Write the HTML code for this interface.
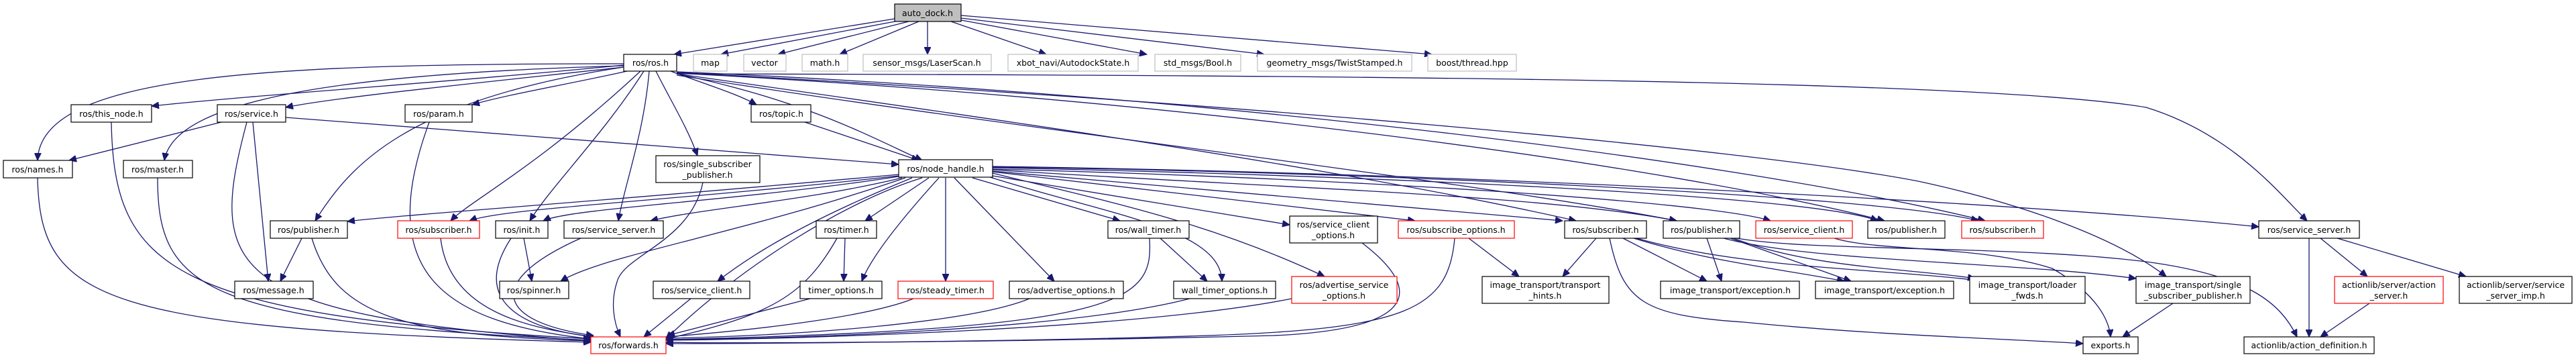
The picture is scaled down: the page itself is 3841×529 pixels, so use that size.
<!DOCTYPE html>
<html><head><meta charset="utf-8"><style>
html,body{margin:0;padding:0;background:#fff;}
svg{display:block;}
text{font-family:"DejaVu Sans","Liberation Sans",sans-serif;font-size:12.5px;fill:#000;text-anchor:middle;}
.e{fill:none;stroke:#191970;stroke-width:1.3;marker-end:url(#a);}
.n{fill:#fff;stroke:#000;stroke-width:1.2;}
.g{fill:#fff;stroke:#bfbfbf;stroke-width:1.2;}
.r{fill:#fff;stroke:#ff0000;stroke-width:1.2;}
</style></head><body>
<svg width="3841" height="529" viewBox="0 0 3841 529" xmlns="http://www.w3.org/2000/svg">
<defs><marker id="a" markerUnits="userSpaceOnUse" markerWidth="12" markerHeight="10" refX="11" refY="5" orient="auto"><path d="M0,0 L11,5 L0,10 z" fill="#191970" stroke="#191970"/></marker></defs>
<g>
<path class="e" d="M1340,27 L1005,81"/>
<path class="e" d="M1345,30 L1075,81"/>
<path class="e" d="M1355,32 L1160,81"/>
<path class="e" d="M1370,32 L1252,81"/>
<path class="e" d="M1383,32 L1383,81"/>
<path class="e" d="M1418,32 L1560,81"/>
<path class="e" d="M1433,30 L1710,81"/>
<path class="e" d="M1433,27 L1885,81"/>
<path class="e" d="M1433,23 L2135,81"/>
<path class="e" d="M930,97 C700,120 400,140 226,158"/>
<path class="e" d="M930,100 C700,125 500,145 426,160"/>
<path class="e" d="M935,106 C850,125 760,140 704,156"/>
<path class="e" d="M1000,106 C1050,125 1100,140 1128,156"/>
<path class="e" d="M930,95 C400,95 60,110 56,239"/>
<path class="e" d="M930,98 C500,110 260,150 245,239"/>
<path class="e" d="M1009,110 C1200,150 1290,200 1375,239"/>
<path class="e" d="M978,106 C1000,150 1025,190 1040,232"/>
<path class="e" d="M930,100 C600,150 520,250 470,329"/>
<path class="e" d="M955,106 C800,250 700,300 672,329"/>
<path class="e" d="M960,106 C900,200 820,280 790,329"/>
<path class="e" d="M968,106 C960,200 930,280 922,329"/>
<path class="e" d="M1009,110 C2000,112 2950,118 3200,160 C3330,200 3400,290 3440,329"/>
<path class="e" d="M1009,108 C1800,150 2600,220 2860,270 C3000,300 3150,350 3230,412"/>
<path class="e" d="M1009,107 C1800,140 2600,240 2960,329"/>
<path class="e" d="M1009,109 C1800,150 2500,250 2810,329"/>
<path class="e" d="M1009,110 C1500,180 2000,250 2350,329"/>
<path class="e" d="M1009,112 C1500,190 2200,270 2500,329"/>
<path class="e" d="M330,182 L103,239"/>
<path class="e" d="M368,182 C310,400 330,470 881,508"/>
<path class="e" d="M377,182 L400,419"/>
<path class="e" d="M426,175 L1340,245"/>
<path class="e" d="M166,182 C170,400 250,470 881,505"/>
<path class="e" d="M56,265 C60,450 150,490 881,510"/>
<path class="e" d="M235,265 C235,430 300,480 881,507"/>
<path class="e" d="M640,182 C560,400 650,480 881,505"/>
<path class="e" d="M1200,182 L1370,239"/>
<path class="e" d="M1048,272 C1030,360 930,380 920,420 C910,450 915,480 925,502"/>
<path class="e" d="M1340,260 C900,300 600,320 518,330"/>
<path class="e" d="M1340,262 C1000,300 750,310 700,329"/>
<path class="e" d="M1340,263 C1100,300 850,310 810,329"/>
<path class="e" d="M1345,265 C1200,300 1050,310 970,329"/>
<path class="e" d="M1350,265 C1100,350 900,380 836,419"/>
<path class="e" d="M1360,265 C1200,330 1120,380 1070,419"/>
<path class="e" d="M1385,265 L1290,329"/>
<path class="e" d="M1375,265 C1260,300 1100,400 993,505"/>
<path class="e" d="M1400,265 C1350,320 1300,380 1285,419"/>
<path class="e" d="M1410,265 L1410,419"/>
<path class="e" d="M1423,265 L1572,419"/>
<path class="e" d="M1450,265 L1670,329"/>
<path class="e" d="M1470,262 C1650,320 1820,340 1822,419"/>
<path class="e" d="M1480,262 L1923,335"/>
<path class="e" d="M1480,258 C1650,300 1800,330 1975,412"/>
<path class="e" d="M1480,256 L2110,329"/>
<path class="e" d="M1480,255 L2330,329"/>
<path class="e" d="M1480,253 C1900,280 2300,290 2500,329"/>
<path class="e" d="M1480,252 C2000,265 2550,300 2640,329"/>
<path class="e" d="M1480,250 C2000,260 2700,290 2800,329"/>
<path class="e" d="M1480,249 C2000,255 2800,290 2950,329"/>
<path class="e" d="M1480,248 C2300,260 3100,310 3368,338"/>
<path class="e" d="M450,355 L418,419"/>
<path class="e" d="M465,355 C500,470 600,500 881,508"/>
<path class="e" d="M657,355 C670,470 800,490 885,502"/>
<path class="e" d="M781,355 L793,419"/>
<path class="e" d="M762,355 C700,450 780,490 885,502"/>
<path class="e" d="M866,355 C720,420 740,480 885,500"/>
<path class="e" d="M1260,355 L1258,419"/>
<path class="e" d="M1248,355 C1200,440 1150,470 993,505"/>
<path class="e" d="M1030,445 L960,502"/>
<path class="e" d="M1208,445 L995,500"/>
<path class="e" d="M1362,445 C1300,470 1150,490 993,502"/>
<path class="e" d="M1535,445 C1450,480 1200,500 993,504"/>
<path class="e" d="M1730,355 L1800,419"/>
<path class="e" d="M1714,355 C1720,450 1680,490 993,506"/>
<path class="e" d="M1774,445 C1600,490 1200,505 993,506"/>
<path class="e" d="M1926,445 C1700,490 1200,505 993,507"/>
<path class="e" d="M2031,362 C2120,430 2120,490 1900,500 C1500,510 1100,512 993,510"/>
<path class="e" d="M2190,355 L2265,412"/>
<path class="e" d="M2169,355 C2160,460 2100,490 1800,500 C1500,510 1100,512 993,512"/>
<path class="e" d="M2380,355 L2330,412"/>
<path class="e" d="M2420,355 L2545,419"/>
<path class="e" d="M2436,355 C2550,390 2650,400 2750,419"/>
<path class="e" d="M2440,355 C2600,400 2800,400 2950,418"/>
<path class="e" d="M2400,355 C2420,450 2450,470 2600,480 C2800,500 3000,505 3106,512"/>
<path class="e" d="M2545,355 L2567,419"/>
<path class="e" d="M2580,355 L2760,419"/>
<path class="e" d="M2585,355 C2700,400 2850,400 2945,415"/>
<path class="e" d="M2570,355 C2700,390 3000,390 3185,415"/>
<path class="e" d="M2590,355 C2700,375 3000,365 3200,390 C3350,410 3400,450 3425,502"/>
<path class="e" d="M2735,355 C2800,375 2950,365 3060,400 C3130,440 3145,480 3147,502"/>
<path class="e" d="M3240,452 L3165,502"/>
<path class="e" d="M3443,355 L3443,502"/>
<path class="e" d="M3460,355 L3530,412"/>
<path class="e" d="M3485,355 L3677,412"/>
<path class="e" d="M3533,452 L3460,502"/>
</g>
<g>
<rect x="1334" y="6" width="99" height="26" fill="#bfbfbf" stroke="#000" stroke-width="1.2"/><text x="1383" y="24">auto_dock.h</text>
<rect class="n" x="930" y="81" width="79" height="25"/><text x="970" y="98">ros/ros.h</text>
<rect class="g" x="1034" y="81" width="50" height="25"/><text x="1059" y="98">map</text>
<rect class="g" x="1109" y="81" width="63" height="25"/><text x="1140" y="98">vector</text>
<rect class="g" x="1196" y="81" width="68" height="25"/><text x="1230" y="98">math.h</text>
<rect class="g" x="1287" y="81" width="191" height="25"/><text x="1382" y="98">sensor_msgs/LaserScan.h</text>
<rect class="g" x="1503" y="81" width="194" height="25"/><text x="1600" y="98">xbot_navi/AutodockState.h</text>
<rect class="g" x="1722" y="81" width="128" height="25"/><text x="1786" y="98">std_msgs/Bool.h</text>
<rect class="g" x="1875" y="81" width="230" height="25"/><text x="1990" y="98">geometry_msgs/TwistStamped.h</text>
<rect class="g" x="2129" y="81" width="132" height="25"/><text x="2195" y="98">boost/thread.hpp</text>

<rect class="n" x="106" y="156" width="120" height="26"/><text x="166" y="174">ros/this_node.h</text>
<rect class="n" x="324" y="156" width="102" height="26"/><text x="375" y="174">ros/service.h</text>
<rect class="n" x="604" y="156" width="100" height="26"/><text x="654" y="174">ros/param.h</text>
<rect class="n" x="1120" y="156" width="89" height="26"/><text x="1165" y="174">ros/topic.h</text>

<rect class="n" x="5" y="239" width="103" height="26"/><text x="56" y="257">ros/names.h</text>
<rect class="n" x="184" y="239" width="103" height="26"/><text x="235" y="257">ros/master.h</text>
<rect class="n" x="978" y="232" width="155" height="40"/><text x="1055" y="249">ros/single_subscriber</text><text x="1055" y="265">_publisher.h</text>
<rect class="n" x="1340" y="238" width="140" height="26"/><text x="1410" y="256">ros/node_handle.h</text>

<rect class="n" x="403" y="329" width="115" height="26"/><text x="460" y="347">ros/publisher.h</text>
<rect class="r" x="593" y="329" width="122" height="26"/><text x="654" y="347">ros/subscriber.h</text>
<rect class="n" x="739" y="329" width="78" height="26"/><text x="778" y="347">ros/init.h</text>
<rect class="n" x="841" y="329" width="148" height="26"/><text x="915" y="347">ros/service_server.h</text>
<rect class="n" x="1217" y="329" width="90" height="26"/><text x="1262" y="347">ros/timer.h</text>
<rect class="n" x="1652" y="329" width="121" height="26"/><text x="1712" y="347">ros/wall_timer.h</text>
<rect class="n" x="1923" y="322" width="131" height="40"/><text x="1988" y="339">ros/service_client</text><text x="1988" y="355">_options.h</text>
<rect class="r" x="2085" y="329" width="173" height="26"/><text x="2171" y="347">ros/subscribe_options.h</text>
<rect class="n" x="2333" y="329" width="122" height="26"/><text x="2394" y="347">ros/subscriber.h</text>
<rect class="n" x="2480" y="329" width="114" height="26"/><text x="2537" y="347">ros/publisher.h</text>
<rect class="r" x="2618" y="329" width="144" height="26"/><text x="2690" y="347">ros/service_client.h</text>
<rect class="n" x="2785" y="329" width="115" height="26"/><text x="2842" y="347">ros/publisher.h</text>
<rect class="r" x="2925" y="329" width="122" height="26"/><text x="2986" y="347">ros/subscriber.h</text>
<rect class="n" x="3368" y="329" width="150" height="26"/><text x="3443" y="347">ros/service_server.h</text>

<rect class="n" x="350" y="419" width="117" height="26"/><text x="408" y="437">ros/message.h</text>
<rect class="n" x="745" y="419" width="103" height="26"/><text x="796" y="437">ros/spinner.h</text>
<rect class="n" x="974" y="419" width="144" height="26"/><text x="1046" y="437">ros/service_client.h</text>
<rect class="n" x="1193" y="419" width="122" height="26"/><text x="1254" y="437">timer_options.h</text>
<rect class="r" x="1339" y="419" width="142" height="26"/><text x="1410" y="437">ros/steady_timer.h</text>
<rect class="n" x="1505" y="419" width="170" height="26"/><text x="1590" y="437">ros/advertise_options.h</text>
<rect class="n" x="1750" y="419" width="152" height="26"/><text x="1826" y="437">wall_timer_options.h</text>
<rect class="r" x="1926" y="412" width="157" height="40"/><text x="2004" y="429">ros/advertise_service</text><text x="2004" y="445">_options.h</text>
<rect class="n" x="2210" y="412" width="189" height="40"/><text x="2304" y="429">image_transport/transport</text><text x="2304" y="445">_hints.h</text>
<rect class="n" x="2476" y="419" width="207" height="26"/><text x="2580" y="437">image_transport/exception.h</text>
<rect class="n" x="2707" y="419" width="206" height="26"/><text x="2810" y="437">image_transport/exception.h</text>
<rect class="n" x="2937" y="412" width="172" height="40"/><text x="3023" y="429">image_transport/loader</text><text x="3023" y="445">_fwds.h</text>
<rect class="n" x="3185" y="412" width="170" height="40"/><text x="3270" y="429">image_transport/single</text><text x="3270" y="445">_subscriber_publisher.h</text>
<rect class="r" x="3481" y="412" width="162" height="40"/><text x="3562" y="429">actionlib/server/action</text><text x="3562" y="445">_server.h</text>
<rect class="n" x="3667" y="412" width="168" height="40"/><text x="3751" y="429">actionlib/server/service</text><text x="3751" y="445">_server_imp.h</text>

<rect class="r" x="881" y="502" width="112" height="25"/><text x="937" y="519">ros/forwards.h</text>
<rect class="n" x="3106" y="502" width="82" height="25"/><text x="3147" y="519">exports.h</text>
<rect class="n" x="3346" y="502" width="194" height="25"/><text x="3443" y="519">actionlib/action_definition.h</text>
</g>
</svg>
</body></html>
